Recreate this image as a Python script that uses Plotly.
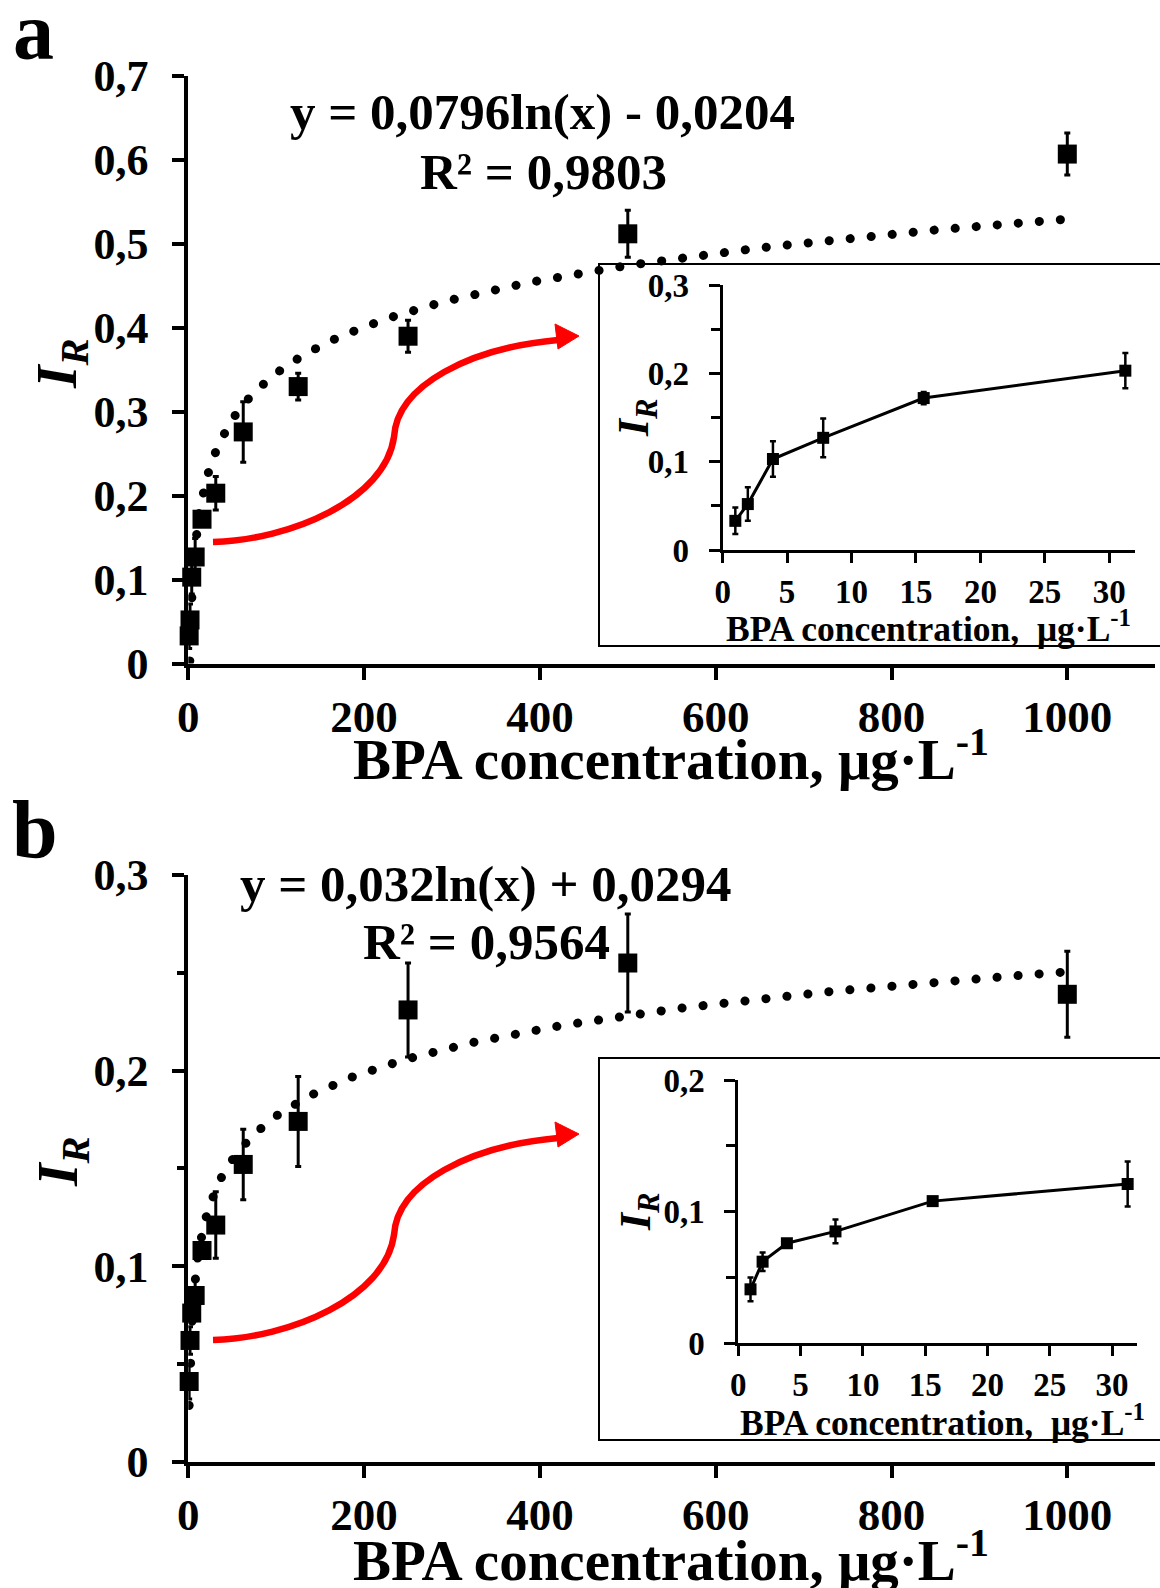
import numpy as np
import plotly.graph_objects as go

W, H = 1160, 1588
FONT = "Liberation Serif, Times New Roman, serif"

# ---------------- data ----------------
conc = [0.98, 1.95, 3.9, 7.8, 15.6, 31.25, 62.5, 125, 250, 500, 1000]
ir_a = [0.033, 0.052, 0.103, 0.127, 0.172, 0.203, 0.276, 0.330, 0.390, 0.512, 0.607]
err_a = [0.015, 0.019, 0.020, 0.022, 0.007, 0.020, 0.036, 0.016, 0.019, 0.028, 0.025]
ir_b = [0.041, 0.062, 0.076, 0.085, 0.108, 0.121, 0.152, 0.174, 0.231, 0.255, 0.239]
err_b = [0.009, 0.007, 0.003, 0.009, 0.002, 0.017, 0.018, 0.023, 0.024, 0.025, 0.022]
n_inset = 6  # first six concentrations shown in the insets

fit_a = (0.0796, -0.0204)
fit_b = (0.032, 0.0294)
eq_a = ["y = 0,0796ln(x) - 0,0204", "R² = 0,9803"]
eq_b = ["y = 0,032ln(x) + 0,0294", "R² = 0,9564"]

main_xticks = [0, 200, 400, 600, 800, 1000]
main_a_yticks = [0, 0.1, 0.2, 0.3, 0.4, 0.5, 0.6, 0.7]
main_a_ytext = ["0", "0,1", "0,2", "0,3", "0,4", "0,5", "0,6", "0,7"]
main_b_yticks = [0, 0.1, 0.2, 0.3]
main_b_ytext = ["0", "0,1", "0,2", "0,3"]
main_b_minor = [0.05, 0.15, 0.25]
inset_xticks = [0, 5, 10, 15, 20, 25, 30]
inset_a_yticks = [0, 0.1, 0.2, 0.3]
inset_a_ytext = ["0", "0,1", "0,2", "0,3"]
inset_a_minor = [0.05, 0.15, 0.25]
inset_b_yticks = [0, 0.1, 0.2]
inset_b_ytext = ["0", "0,1", "0,2"]
inset_b_minor = [0.05, 0.15]

xtitle = "BPA concentration, μg·L<sup>-1</sup>"
xtitle_inset = "BPA concentration,\u00a0 μg·L<sup>-1</sup>"
ytitle = "<i>I</i><sub><i>R</i></sub>"


def px(x):
    return x / W


def py(y):
    return 1 - y / H


fig = go.Figure()

# trend lines from the displayed equations
trend_x = np.geomspace(conc[0], conc[-1], 500)
trend_a = fit_a[0] * np.log(trend_x) + fit_a[1]
trend_b = fit_b[0] * np.log(trend_x) + fit_b[1]

err_style = dict(type="data", thickness=3, width=3, color="black")

# panel a main
fig.add_trace(go.Scatter(x=conc, y=ir_a, mode="markers", xaxis="x", yaxis="y",
                         marker=dict(symbol="square", size=19, color="black"),
                         error_y=dict(array=err_a, **err_style), cliponaxis=False))
fig.add_trace(go.Scatter(x=trend_x, y=trend_a, mode="lines", xaxis="x", yaxis="y", uid="trendA",
                         line=dict(color="black", width=9, dash="0.1px,21px")))
# panel a inset
fig.add_trace(go.Scatter(x=conc[:n_inset], y=ir_a[:n_inset], mode="lines+markers", xaxis="x2", yaxis="y2",
                         line=dict(color="black", width=3),
                         marker=dict(symbol="square", size=12, color="black"),
                         error_y=dict(array=err_a[:n_inset], type="data", thickness=2.5, width=3, color="black"),
                         cliponaxis=False))
# panel b main
fig.add_trace(go.Scatter(x=conc, y=ir_b, mode="markers", xaxis="x3", yaxis="y3",
                         marker=dict(symbol="square", size=19, color="black"),
                         error_y=dict(array=err_b, **err_style), cliponaxis=False))
fig.add_trace(go.Scatter(x=trend_x, y=trend_b, mode="lines", xaxis="x3", yaxis="y3", uid="trendB",
                         line=dict(color="black", width=9, dash="0.1px,21px")))
# panel b inset
fig.add_trace(go.Scatter(x=conc[:n_inset], y=ir_b[:n_inset], mode="lines+markers", xaxis="x4", yaxis="y4",
                         line=dict(color="black", width=3),
                         marker=dict(symbol="square", size=12, color="black"),
                         error_y=dict(array=err_b[:n_inset], type="data", thickness=2.5, width=3, color="black"),
                         cliponaxis=False))


def xax(domain, rng, tickvals, anchor, size, lw, tlen, standoff):
    return dict(domain=domain, range=rng, anchor=anchor, tickmode="array", tickvals=tickvals,
                ticktext=[str(v) for v in tickvals], ticks="outside", ticklen=tlen, tickwidth=lw,
                showline=True, linewidth=lw, linecolor="black", tickcolor="black",
                showgrid=False, zeroline=False, ticklabelstandoff=standoff, automargin=False,
                tickfont=dict(family=FONT, size=size, color="black", weight="bold"))


def yax(domain, rng, tickvals, ticktext, anchor, size, lw, tlen, standoff, minor=None, mlen=7):
    d = dict(domain=domain, range=rng, anchor=anchor, tickmode="array", tickvals=tickvals,
             ticktext=ticktext, ticks="outside", ticklen=tlen, tickwidth=lw,
             showline=True, linewidth=lw, linecolor="black", tickcolor="black",
             showgrid=False, zeroline=False, ticklabelstandoff=standoff, automargin=False,
             tickfont=dict(family=FONT, size=size, color="black", weight="bold"))
    if minor:
        d["minor"] = dict(tickmode="array", tickvals=minor, ticks="outside", ticklen=mlen,
                          tickwidth=lw, tickcolor="black", showgrid=False)
    return d


fig.update_layout(
    width=W, height=H, margin=dict(l=0, r=0, t=0, b=0, autoexpand=False),
    paper_bgcolor="white", plot_bgcolor="rgba(0,0,0,0)", showlegend=False,
    xaxis=xax([px(188.3), px(1155.2)], [0, 1100], main_xticks, "y", 45, 4, 12, -2),
    yaxis=yax([py(663.6), py(76)], [0, 0.7], main_a_yticks, main_a_ytext, "x", 44, 4, 12, 15),
    xaxis2=xax([px(722.7), px(1135)], [0, 32], inset_xticks, "y2", 33, 3, 10, 0),
    yaxis2=yax([py(550), py(285)], [0, 0.3], inset_a_yticks, inset_a_ytext, "x2", 33, 3, 11, 13,
               minor=inset_a_minor, mlen=9),
    xaxis3=xax([px(188.3), px(1155.2)], [0, 1100], main_xticks, "y3", 45, 4, 12, -2),
    yaxis3=yax([py(1461.7), py(875)], [0, 0.3], main_b_yticks, main_b_ytext, "x3", 44, 4, 12, 15,
               minor=main_b_minor, mlen=7),
    xaxis4=xax([px(738.3), px(1137)], [0, 32], inset_xticks, "y4", 33, 3, 10, 0),
    yaxis4=yax([py(1343.3), py(1080)], [0, 0.2], inset_b_yticks, inset_b_ytext, "x4", 33, 3, 11, 13,
               minor=inset_b_minor, mlen=9),
)

# ---------------- decorations ----------------
shapes = []
for (top, bot) in [(264, 646), (1058, 1440)]:
    shapes.append(dict(type="rect", xref="paper", yref="paper", x0=px(599), x1=px(1166),
                       y0=py(bot), y1=py(top), line=dict(color="black", width=2),
                       fillcolor="rgba(0,0,0,0)", layer="above"))


def P(x, y):
    return f"{px(x):.5f},{py(y):.5f}"


for dy in [0, 798]:
    path = ("M " + P(213, 542 + dy) + " C " + P(290, 540 + dy) + " " + P(385, 500 + dy) + " " + P(394, 437 + dy)
            + " C " + P(397, 385 + dy) + " " + P(470, 348 + dy) + " " + P(558, 340 + dy))
    shapes.append(dict(type="path", xref="paper", yref="paper", path=path,
                       line=dict(color="#ff0000", width=6.5), layer="above"))
    head = "M " + P(579, 336 + dy) + " L " + P(555, 324 + dy) + " L " + P(558, 349 + dy) + " Z"
    shapes.append(dict(type="path", xref="paper", yref="paper", path=head,
                       line=dict(color="#ff0000", width=1), fillcolor="#ff0000", layer="above"))

fig.update_layout(shapes=shapes)


def ann(text, x, y, size, angle=0):
    fig.add_annotation(text=text, x=px(x), y=py(y), xref="paper", yref="paper", showarrow=False,
                       xanchor="center", yanchor="middle", textangle=angle,
                       font=dict(family=FONT, size=size, color="black", weight="bold"))


ann("a", 33, 31, 82)
ann("b", 35, 829, 82)
ann(eq_a[0], 542, 112, 51)
ann(eq_a[1], 543, 172, 51)
ann(eq_b[0], 486, 884, 51)
ann(eq_b[1], 486, 942, 51)
ann(xtitle, 671, 755, 57)
ann(xtitle, 671, 1556, 57)
ann(xtitle_inset, 928, 626, 35.5)
ann(xtitle_inset, 942, 1420, 35.5)
ann(ytitle, 61, 364, 58, -90)
ann(ytitle, 61, 1162, 58, -90)
ann(ytitle, 636, 418, 44, -90)
ann(ytitle, 638, 1212, 44, -90)

post = ("document.body.style.margin='0';document.body.style.padding='0';"
        "document.documentElement.style.margin='0';"
        "var s=document.createElement('style');"
        "s.innerHTML='body{margin:0;padding:0;overflow:hidden}.js-line{stroke-linecap:round !important;}';"
        "document.head.appendChild(s);")
fig.write_html("out.html", post_script=post, config={"displayModeBar": False})
